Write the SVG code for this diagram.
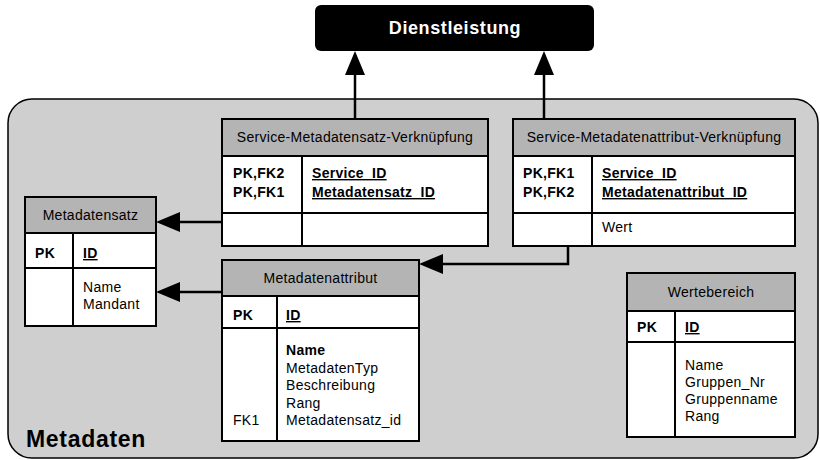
<svg xmlns="http://www.w3.org/2000/svg" width="820" height="460" viewBox="0 0 820 460">
<defs>
<style>
.tbl{fill:#fff;stroke:#000;stroke-width:2}
.hdr{fill:#b4b4b4;stroke:#000;stroke-width:2}
.ln{stroke:#000;stroke-width:2;fill:none}
.t{font-family:"Liberation Sans",Arial,sans-serif;font-size:14px;letter-spacing:0.3px;fill:#000}
.c{text-anchor:middle}
.b{font-weight:bold}
.u{text-decoration:underline}
.conn{stroke:#000;stroke-width:2.5;fill:none}
</style>
<marker id="ah" markerUnits="userSpaceOnUse" markerWidth="24" markerHeight="20" refX="0" refY="10" orient="auto">
<path d="M0,0 L24,10 L0,20 z" fill="#000"/>
</marker>
</defs>
<g id="metadaten">
<rect x="8" y="99" width="810" height="359" rx="24" ry="24" fill="#cfcfcf" stroke="#000" stroke-width="1.5"/>
<text x="26" y="447" font-family="'Liberation Sans',Arial,sans-serif" font-size="23" font-weight="bold" letter-spacing="0.7">Metadaten</text>
</g>
<g id="dienstleistung">
<rect x="315" y="5" width="279" height="46" rx="6" ry="6" fill="#000"/>
<text x="455" y="34" text-anchor="middle" font-family="'Liberation Sans',Arial,sans-serif" font-size="18" font-weight="bold" letter-spacing="0.6" fill="#fff">Dienstleistung</text>
</g>
<g id="connectors">
<path class="conn" d="M355,119 V75" marker-end="url(#ah)"/>
<path class="conn" d="M544,119 V75" marker-end="url(#ah)"/>
<path class="conn" d="M222,222 H180" marker-end="url(#ah)"/>
<path class="conn" d="M222,292 H180" marker-end="url(#ah)"/>
<path class="conn" d="M568,246 V264 H443" marker-end="url(#ah)"/>
</g>
<g id="service-metadatensatz-verknuepfung">
<rect class="tbl" x="222" y="119" width="266" height="127"/>
<rect class="hdr" x="222" y="119" width="266" height="37"/>
<line class="ln" x1="222" y1="213" x2="488" y2="213"/>
<line class="ln" x1="302" y1="156" x2="302" y2="246"/>
<text class="t c" x="355" y="142">Service-Metadatensatz-Verknüpfung</text>
<text class="t b" x="233" y="178">PK,FK2</text>
<text class="t b" x="233" y="197">PK,FK1</text>
<text class="t b u" x="312" y="178">Service_ID</text>
<text class="t b u" x="312" y="197">Metadatensatz_ID</text>
</g>
<g id="service-metadatenattribut-verknuepfung">
<rect class="tbl" x="513" y="119" width="282" height="127"/>
<rect class="hdr" x="513" y="119" width="282" height="37"/>
<line class="ln" x1="513" y1="213" x2="795" y2="213"/>
<line class="ln" x1="592" y1="156" x2="592" y2="246"/>
<text class="t c" x="654" y="142">Service-Metadatenattribut-Verknüpfung</text>
<text class="t b" x="523" y="178">PK,FK1</text>
<text class="t b" x="523" y="197">PK,FK2</text>
<text class="t b u" x="602" y="178">Service_ID</text>
<text class="t b u" x="602" y="197">Metadatenattribut_ID</text>
<text class="t" x="602" y="232">Wert</text>
</g>
<g id="metadatensatz">
<rect class="tbl" x="25" y="197" width="131" height="129"/>
<rect class="hdr" x="25" y="197" width="131" height="36"/>
<line class="ln" x1="25" y1="268" x2="156" y2="268"/>
<line class="ln" x1="73" y1="233" x2="73" y2="326"/>
<text class="t c" x="90.5" y="220">Metadatensatz</text>
<text class="t b" x="35" y="258">PK</text>
<text class="t b u" x="83" y="258">ID</text>
<text class="t" x="83" y="292">Name</text>
<text class="t" x="83" y="309">Mandant</text>
</g>
<g id="metadatenattribut">
<rect class="tbl" x="222" y="260" width="197" height="181"/>
<rect class="hdr" x="222" y="260" width="197" height="36"/>
<line class="ln" x1="222" y1="328" x2="419" y2="328"/>
<line class="ln" x1="277" y1="296" x2="277" y2="441"/>
<text class="t c" x="320.5" y="283">Metadatenattribut</text>
<text class="t b" x="233" y="320">PK</text>
<text class="t b u" x="286" y="320">ID</text>
<text class="t b" x="286" y="355">Name</text>
<text class="t" x="286" y="372.5">MetadatenTyp</text>
<text class="t" x="286" y="390">Beschreibung</text>
<text class="t" x="286" y="407.5">Rang</text>
<text class="t" x="286" y="425">Metadatensatz_id</text>
<text class="t" x="233" y="425">FK1</text>
</g>
<g id="wertebereich">
<rect class="tbl" x="627" y="273" width="168" height="164"/>
<rect class="hdr" x="627" y="273" width="168" height="38"/>
<line class="ln" x1="627" y1="342" x2="795" y2="342"/>
<line class="ln" x1="675" y1="311" x2="675" y2="437"/>
<text class="t c" x="711" y="297">Wertebereich</text>
<text class="t b" x="637" y="332">PK</text>
<text class="t b u" x="685" y="332">ID</text>
<text class="t" x="685" y="370">Name</text>
<text class="t" x="685" y="387">Gruppen_Nr</text>
<text class="t" x="685" y="404">Gruppenname</text>
<text class="t" x="685" y="421">Rang</text>
</g>
</svg>
